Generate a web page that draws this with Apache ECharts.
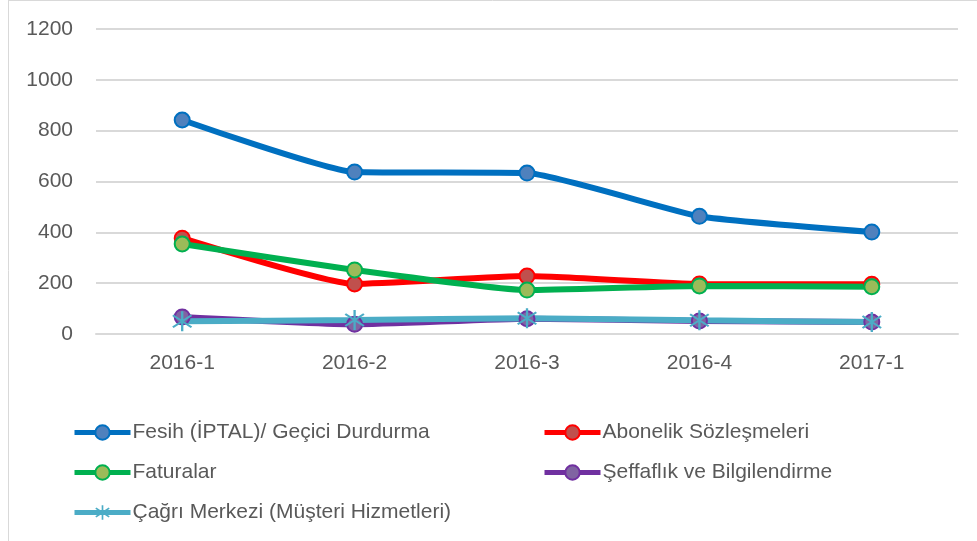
<!DOCTYPE html>
<html>
<head>
<meta charset="utf-8">
<script src="https://cdn.jsdelivr.net/npm/echarts@6/dist/echarts.min.js"></script>
<style>
  html, body { margin: 0; padding: 0; background: #fff; }
  #chart { width: 977px; height: 541px; }
</style>
</head>
<body>
<div id="chart"></div>
<script>
const categories = ['2016-1', '2016-2', '2016-3', '2016-4', '2017-1']

const fesih = [842, 637, 633, 463, 401]
const abonelik = [377, 197, 228, 197, 196]
const faturalar = [354, 252, 173, 189, 186]
const seffaflik = [67, 38, 60, 51, 47]
const cagri = [50, 55, 62, 54, 47]

const yTicks = [0, 200, 400, 600, 800, 1000, 1200]

const TEXT = '#595959'
const GRID = '#d9d9d9'
const FONT = 'Liberation Sans, Arial, sans-serif'

// asterisk marker like Excel's "*"
const STAR = 'path://M9,0L11,0L11,20L9,20Z' +
  'M1.4,4.8L2.6,3.2L18.6,15.2L17.4,16.8Z' +
  'M2.6,16.8L1.4,15.2L17.4,3.2L18.6,4.8Z'

function lineSeries(name, data, lineColor, fill, symbol) {
  const isStar = symbol === STAR
  return {
    name,
    type: 'line',
    data,
    smooth: 0.15,
    symbol: symbol || 'circle',
    symbolSize: isStar ? 20 : 15,
    showAllSymbol: true,
    lineStyle: { color: lineColor, width: 6 },
    itemStyle: isStar
      ? { color: lineColor, borderWidth: 0 }
      : { color: fill, borderColor: lineColor, borderWidth: 2 },
    emphasis: { disabled: true },
    z: 3
  }
}

const legendBase = {
  orient: 'vertical',
  top: 416,
  itemWidth: 56,
  itemHeight: 18,
  itemGap: 17,
  lineStyle: { width: 5 },
  textStyle: { color: TEXT, fontSize: 21, fontFamily: FONT, lineHeight: 23, padding: [0, 0, 0, -3] }
}

const chart = echarts.init(document.getElementById('chart'))

chart.setOption({
  animation: false,
  textStyle: { fontFamily: FONT },
  graphic: [
    { type: 'line', shape: { x1: 8.5, y1: 0, x2: 8.5, y2: 541 }, style: { stroke: GRID, lineWidth: 1 } },
    { type: 'line', shape: { x1: 8, y1: 0.5, x2: 977, y2: 0.5 }, style: { stroke: GRID, lineWidth: 1 } }
  ],
  grid: { left: 96, right: 19, top: 29, bottom: 207 },
  xAxis: {
    type: 'category',
    data: categories,
    boundaryGap: true,
    axisLine: { lineStyle: { color: GRID, width: 2 } },
    axisTick: { show: false },
    axisLabel: { color: TEXT, fontSize: 21, fontFamily: FONT, margin: 19 }
  },
  yAxis: {
    type: 'value',
    min: yTicks[0],
    max: yTicks[yTicks.length - 1],
    interval: 200,
    axisLine: { show: false },
    axisTick: { show: false },
    splitLine: { lineStyle: { color: GRID, width: 2 } },
    axisLabel: { color: TEXT, fontSize: 21, fontFamily: FONT, margin: 23, formatter: v => String(v) }
  },
  legend: [
    Object.assign({}, legendBase, {
      left: 67,
      data: ['Fesih (İPTAL)/ Geçici Durdurma', 'Faturalar', 'Çağrı Merkezi (Müşteri Hizmetleri)']
    }),
    Object.assign({}, legendBase, {
      left: 537,
      data: ['Abonelik Sözleşmeleri', 'Şeffaflık ve Bilgilendirme']
    })
  ],
  series: [
    lineSeries('Fesih (İPTAL)/ Geçici Durdurma', fesih, '#0070C0', '#4F81BD'),
    lineSeries('Abonelik Sözleşmeleri', abonelik, '#FF0000', '#C0504D'),
    lineSeries('Faturalar', faturalar, '#00B050', '#9BBB59'),
    lineSeries('Şeffaflık ve Bilgilendirme', seffaflik, '#7030A0', '#8064A2'),
    lineSeries('Çağrı Merkezi (Müşteri Hizmetleri)', cagri, '#4BACC6', '#4BACC6', STAR)
  ]
})
</script>
</body>
</html>
